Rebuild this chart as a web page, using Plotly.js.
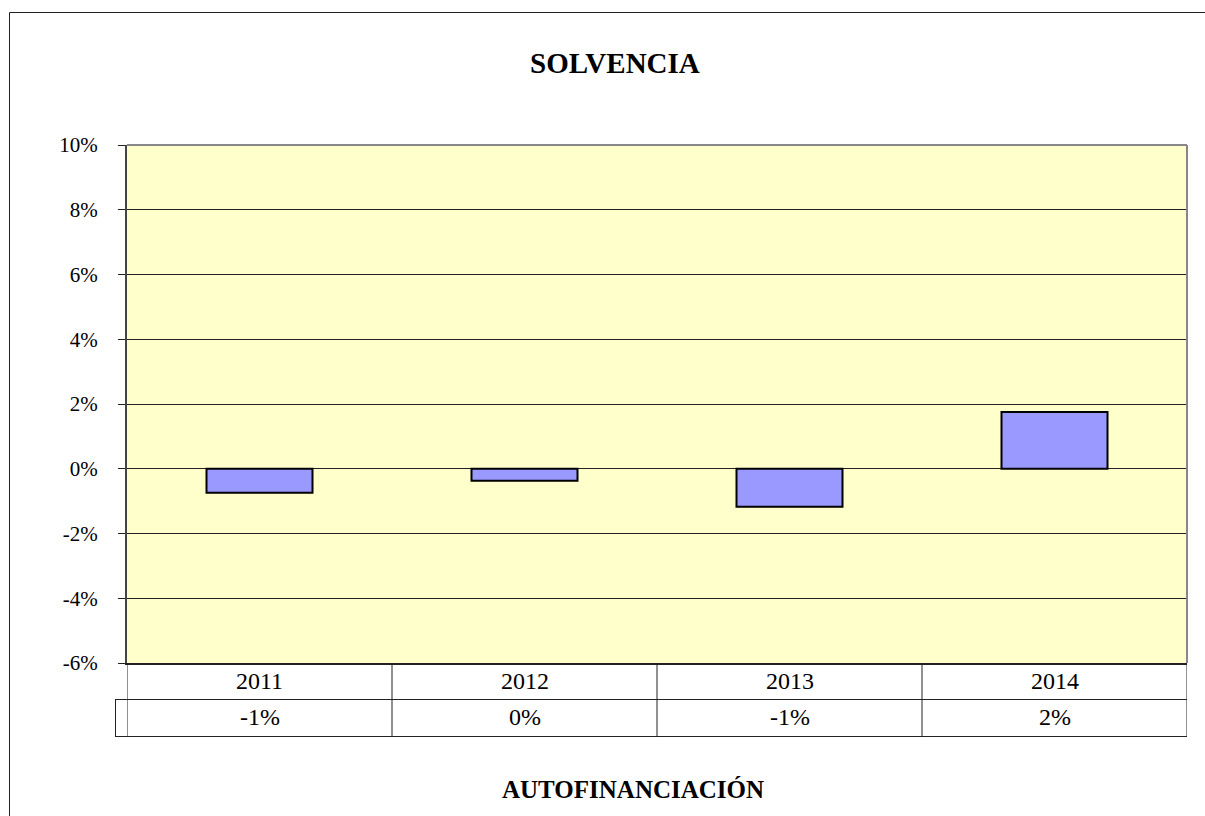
<!DOCTYPE html>
<html>
<head>
<meta charset="utf-8">
<script src="https://cdn.plot.ly/plotly-3.0.1.min.js"></script>
<style>
  html, body { margin: 0; padding: 0; background: #fff; }
  #chart { width: 1205px; height: 816px; }
</style>
</head>
<body>
<div id="chart"></div>
<script>
// Solvencia — autofinanciación por año
const years = ['2011', '2012', '2013', '2014'];
const autofin = [-0.0074, -0.0037, -0.0117, 0.0175];
const tableLabels = ['-1%', '0%', '-1%', '2%'];
const yTickVals = [-0.06, -0.04, -0.02, 0, 0.02, 0.04, 0.06, 0.08, 0.10];
const yTickText = ['-6%', '-4%', '-2%', '0%', '2%', '4%', '6%', '8%', '10%'];

const W = 1205, H = 816;
const px = v => v / W;          // pixel -> paper x
const py = v => 1 - v / H;      // pixel -> paper y

const serif = '"Liberation Serif", "Times New Roman", serif';
const edge = '#222';

const trace = {
  type: 'bar', x: years, y: autofin,
  marker: { color: '#9999FF', line: { color: '#000', width: 2 } },
  hoverinfo: 'x+y'
};

// table grid under the plot
const rowTop = 663, rowMid = 699.5, rowBot = 736.5;
const shapes = [
  // outer chart frame
  { type: 'line', xref: 'paper', yref: 'paper', x0: px(9.5), x1: px(9.5), y0: py(12.5), y1: 0, line: { color: '#222', width: 1 } },
  { type: 'line', xref: 'paper', yref: 'paper', x0: px(9.5), x1: 1, y0: py(12.5), y1: py(12.5), line: { color: '#222', width: 1 } },
  // plot area top and right border (grey)
  { type: 'line', xref: 'x domain', yref: 'y domain', x0: 0, x1: 1, y0: 1, y1: 1, line: { color: '#888', width: 2 }, layer: 'above' },
  { type: 'line', xref: 'x domain', yref: 'y domain', x0: 1, x1: 1, y0: 0, y1: 1, line: { color: '#888', width: 2 }, layer: 'above' },
  // horizontal table lines
  { type: 'line', xref: 'x domain', yref: 'paper', x0: 0, x1: 1, y0: py(rowMid), y1: py(rowMid), line: { color: edge, width: 1 } },
  { type: 'line', xref: 'paper', yref: 'paper', x0: px(115), x1: px(127), y0: py(rowMid), y1: py(rowMid), line: { color: edge, width: 1 } },
  { type: 'line', xref: 'paper', yref: 'paper', x0: px(115), x1: px(1187), y0: py(rowBot), y1: py(rowBot), line: { color: edge, width: 1 } },
  // legend key cell
  { type: 'line', xref: 'paper', yref: 'paper', x0: px(115.5), x1: px(115.5), y0: py(rowMid), y1: py(rowBot), line: { color: edge, width: 1 } }
];
// vertical table lines at category boundaries
for (let i = 0; i <= years.length; i++) {
  shapes.push({ type: 'line', xref: 'x', yref: 'paper', x0: i - 0.5, x1: i - 0.5,
    y0: py(rowTop), y1: py(rowBot), line: { color: edge, width: 1 } });
}

const txt = (text, x, y, size, xref) => ({
  text, x, y, xref: xref || 'paper', yref: 'paper', showarrow: false,
  xanchor: 'center', yanchor: 'middle', font: { family: serif, size, color: '#000' }
});

const annotations = [
  txt('<b>SOLVENCIA</b>', px(615), py(63), 29),
  txt('<b>AUTOFINANCIACIÓN</b>', px(633), py(789), 25)
];
years.forEach((yr, i) => {
  annotations.push(txt(yr, i, py(681), 24, 'x'));
  annotations.push(txt(tableLabels[i], i, py(717), 24, 'x'));
});

const layout = {
  width: W, height: H,
  margin: { l: 0, r: 0, t: 0, b: 0 },
  paper_bgcolor: '#fff', plot_bgcolor: '#FFFFCC',
  showlegend: false, bargap: 0.6,
  font: { family: serif, color: '#000' },
  xaxis: {
    domain: [px(127), px(1187)], type: 'category',
    categoryorder: 'array', categoryarray: years,
    range: [-0.5, years.length - 0.5], autorange: false,
    showticklabels: false, ticks: '', showgrid: false, zeroline: false,
    showline: true, linecolor: edge, linewidth: 1.5
  },
  yaxis: {
    domain: [py(663), py(145)], range: [-0.06, 0.10], autorange: false,
    tickvals: yTickVals, ticktext: yTickText,
    ticks: 'outside', ticklen: 7, tickcolor: edge, tickwidth: 1,
    ticklabelstandoff: 16,
    tickfont: { family: serif, size: 21, color: '#000' },
    showgrid: true, gridcolor: '#222', gridwidth: 1,
    zeroline: false, showline: true, linecolor: '#444', linewidth: 2
  },
  shapes, annotations
};

Plotly.newPlot('chart', [trace], layout, { displayModeBar: false, staticPlot: true });
</script>
</body>
</html>
